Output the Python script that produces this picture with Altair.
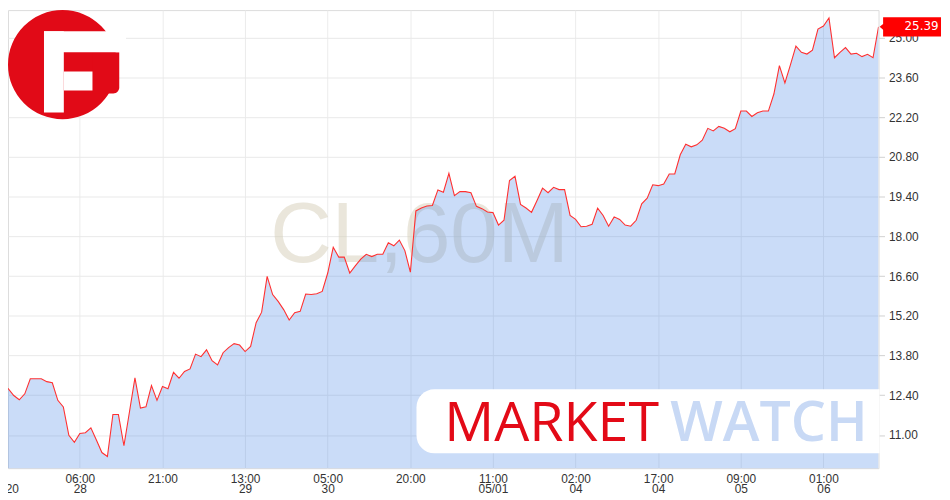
import altair as alt
import pandas as pd

# ---- data (hourly closes, bar index 0..160) ----
values = [
    13.67, 12.69, 12.63, 12.39, 12.24, 12.45, 12.98, 12.98, 12.98, 12.88,
    12.84, 12.22, 11.99, 10.99, 10.74, 11.05, 11.08, 11.25, 10.82, 10.38,
    10.24, 11.72, 11.72, 10.62, 11.81, 13.01, 11.95, 11.99, 12.74, 12.22,
    12.71, 12.63, 13.21, 13.00, 13.24, 13.33, 13.85, 13.76, 14.00, 13.62,
    13.47, 13.90, 14.08, 14.22, 14.17, 13.94, 14.12, 14.96, 15.33, 16.59,
    15.95, 15.71, 15.42, 15.05, 15.31, 15.36, 15.97, 15.95, 15.98, 16.06,
    16.71, 17.62, 17.27, 17.27, 16.71, 16.96, 17.20, 17.37, 17.29, 17.37,
    17.37, 17.78, 17.67, 17.87, 17.50, 16.74, 18.90, 19.00, 19.07, 19.09,
    19.64, 19.56, 20.22, 19.44, 19.58, 19.58, 19.54, 19.06, 18.98, 18.86,
    18.84, 18.40, 18.57, 19.97, 20.12, 19.13, 19.00, 18.85, 19.27, 19.70,
    19.54, 19.73, 19.65, 19.65, 18.74, 18.60, 18.34, 18.36, 18.43, 19.00,
    18.74, 18.36, 18.69, 18.60, 18.40, 18.36, 18.57, 19.15, 19.35, 19.82,
    19.79, 19.85, 20.20, 20.20, 20.88, 21.25, 21.16, 21.23, 21.39, 21.81,
    21.72, 21.88, 21.81, 21.69, 21.80, 22.42, 22.42, 22.23, 22.36, 22.42,
    22.42, 23.02, 24.02, 23.41, 24.05, 24.71, 24.49, 24.43, 24.57, 25.31,
    25.42, 25.70, 24.30, 24.49, 24.66, 24.43, 24.46, 24.34, 24.42, 24.30,
    25.39,
]
bar_index = list(range(len(values)))

tick_pos = [15, 30, 45, 60, 75, 90, 105, 120, 135, 150]
tick_line1 = ["06:00", "21:00", "13:00", "05:00", "20:00", "11:00", "02:00", "17:00", "09:00", "01:00"]
tick_line2 = ["28", "", "29", "30", "", "05/01", "04", "04", "05", "06"]
first_year_label = "2020"

y_ticks = [11.00, 12.40, 13.80, 15.20, 16.60, 18.00, 19.40, 20.80, 22.20, 23.60, 25.00]

symbol = "CL,60M"
last_label = f"{values[-1]:.2f}"

# ---- build ----
df = pd.DataFrame({"i": bar_index, "v": values})

expr = "''"
for p, a, b in reversed(list(zip(tick_pos, tick_line1, tick_line2))):
    lab = f"['{a}','{b}']" if b else f"'{a}'"
    expr = f"datum.value == {p} ? {lab} : ({expr})"

LABEL_FONT = "Liberation Sans"
xscale = alt.Scale(domain=[1.953, 160], nice=False, zero=False)
yscale = alt.Scale(domain=[9.829, 25.98], nice=False, zero=False)

xaxis = alt.Axis(
    values=tick_pos, labelExpr=expr, title=None, grid=True, ticks=False,
    domain=False, labelPadding=5, labelBaseline="top", labelLineHeight=11,
    labelFlush=False, labelOverlap=False, labelAlign="center",
    labelFont=LABEL_FONT, labelFontSize=12, labelColor="#333333",
    gridColor="#ececec",
)
yaxis = alt.Axis(
    values=y_ticks, format=".2f", orient="right", title=None, grid=True,
    ticks=True, tickSize=6, tickColor="#d0d0d0", domain=False,
    labelPadding=4, labelFont=LABEL_FONT, labelFontSize=12,
    labelColor="#333333", gridColor="#e9e9e9", labelOverlap=False,
    labelFlush=False,
)

X = alt.X("i:Q", scale=xscale, axis=xaxis)
Y = alt.Y("v:Q", scale=yscale, axis=yaxis)

one = pd.DataFrame({"k": [0]})

watermark = alt.Chart(pd.DataFrame({"t": [symbol]})).mark_text(
    font=LABEL_FONT, fontSize=86, color="#d6cfb8", opacity=0.5,
    align="center", baseline="alphabetic",
).encode(x=alt.value(415), y=alt.value(254), text="t:N")

area = alt.Chart(df).mark_area(
    color="#4a86e8", fillOpacity=0.29, clip=True
).encode(x=X, y=Y)

line = alt.Chart(df).mark_line(
    color="#ff3030", strokeWidth=1.1, clip=True
).encode(x=X, y=Y)

year_text = alt.Chart(pd.DataFrame({"t": [first_year_label]})).mark_text(
    font=LABEL_FONT, fontSize=12, color="#333333", align="center", baseline="top",
).encode(x=alt.value(-2.3), y=alt.value(478), text="t:N")

box = alt.Chart(one).mark_rect(
    color="white", cornerRadiusTopLeft=18, cornerRadiusBottomLeft=18
).encode(x=alt.value(412), x2=alt.value(879), y=alt.value(382.5), y2=alt.value(447))

mw1 = alt.Chart(pd.DataFrame({"t": ["MARKET"]})).mark_text(
    font="Open Sans", fontSize=56, color="#e30a17", align="left",
    baseline="alphabetic",
).encode(x=alt.value(440), y=alt.value(435), text="t:N")

mw2 = alt.Chart(pd.DataFrame({"t": ["WATCH"]})).mark_text(
    font="Open Sans", fontSize=56, fontWeight=600, color="#c8d9f5",
    align="left", baseline="alphabetic",
).encode(x=alt.value(668), y=alt.value(435), text="t:N")

# logo
LOGO_RED = "#e10a17"
logo_disc = alt.Chart(one).mark_point(
    shape="circle", filled=True, size=12100, color=LOGO_RED, opacity=1, strokeWidth=0
).encode(x=alt.value(55), y=alt.value(55))
logo_right = alt.Chart(one).mark_rect(color=LOGO_RED, cornerRadiusBottomRight=6).encode(
    x=alt.value(85.2), x2=alt.value(112.2), y=alt.value(42.6), y2=alt.value(84.1))
logo_stem = alt.Chart(one).mark_rect(color="white").encode(
    x=alt.value(36.3), x2=alt.value(56.3), y=alt.value(21.4), y2=alt.value(103.4))
logo_top = alt.Chart(one).mark_rect(color="white").encode(
    x=alt.value(36.3), x2=alt.value(119), y=alt.value(21.4), y2=alt.value(42.6))
logo_mid = alt.Chart(one).mark_rect(color="white").encode(
    x=alt.value(56.3), x2=alt.value(85.2), y=alt.value(62), y2=alt.value(81.2))

# last price badge
last_df = pd.DataFrame({"v": [values[-1]], "t": [last_label]})
badge = alt.Chart(last_df).mark_point(
    shape="M-1,-0.33L1,-0.33L1,0.33L-1,0.33L-1,0.1L-1.12,0L-1,-0.1Z",
    filled=True, size=3410, color="#ff0000", opacity=1, strokeWidth=0,
).encode(x=alt.value(911.8), y=Y)
badge_text = alt.Chart(last_df).mark_text(
    font="DejaVu Sans", fontSize=12, color="white", align="right",
    baseline="middle", dy=-0.5,
).encode(x=alt.value(938.5), y=Y, text="t:N")

chart = alt.layer(
    watermark, area, line, year_text, box, mw1, mw2,
    logo_disc, logo_right, logo_stem, logo_top, logo_mid,
    badge, badge_text,
).properties(
    width=878, height=462,
    autosize=alt.AutoSizeParams(type="none"),
    padding={"left": 0, "top": 0, "right": 64, "bottom": 30},
).configure_view(strokeWidth=0).configure(background="white")

chart.save("out.html", embed_options={"renderer": "svg", "actions": False})
